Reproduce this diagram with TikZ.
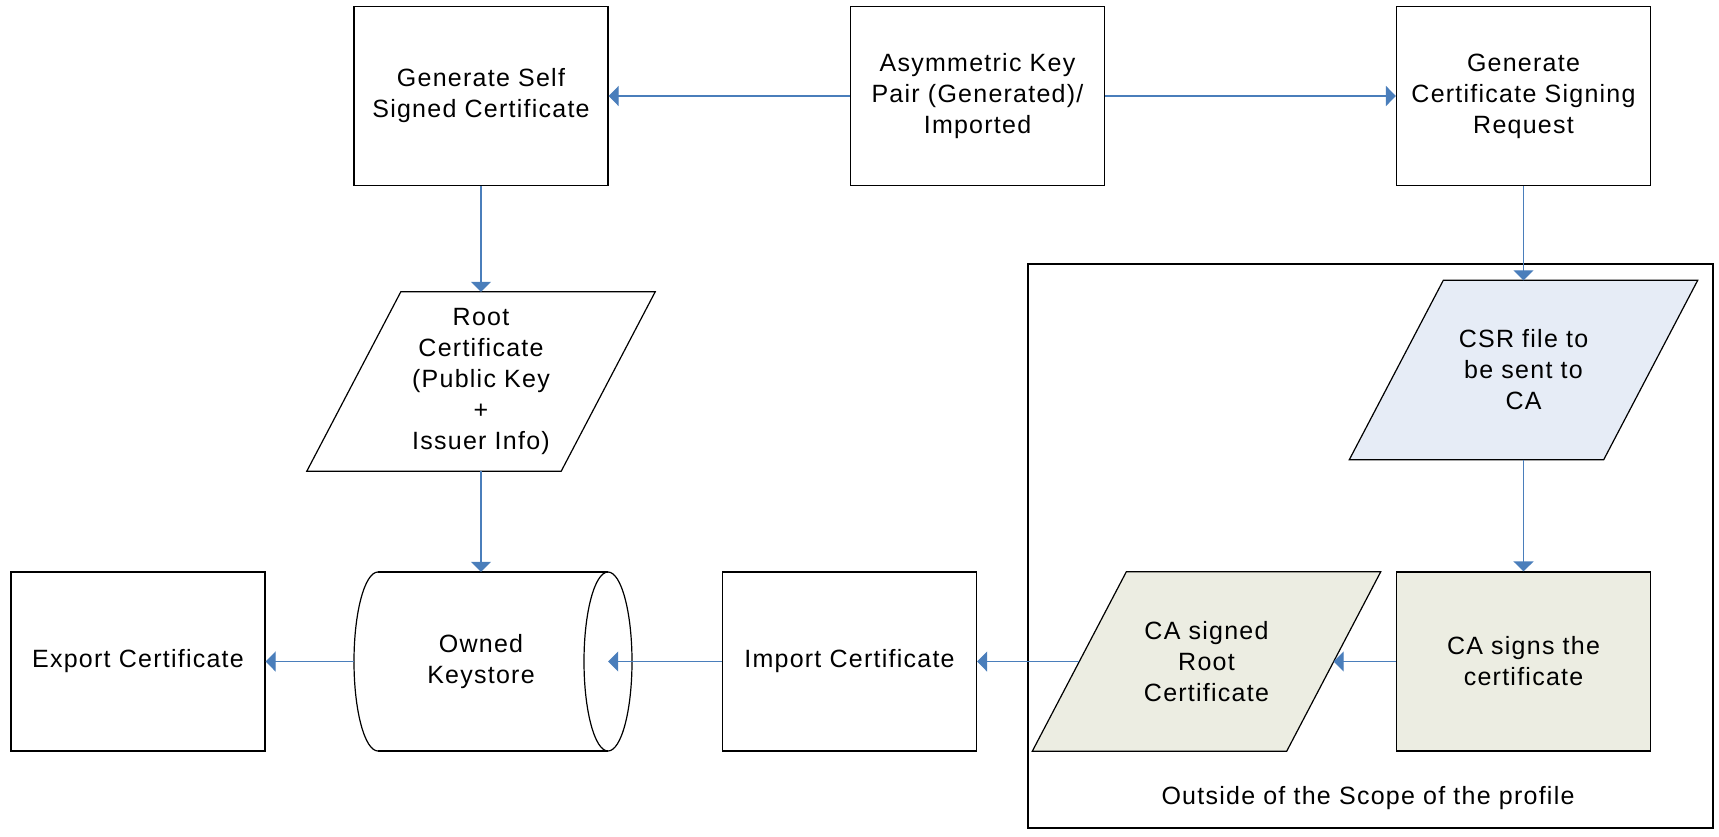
\documentclass[tikz,border=0pt]{standalone}
\usepackage{fontspec}
\setmainfont{Liberation Sans}[LetterSpace=5]
\usetikzlibrary{arrows.meta,backgrounds}
\definecolor{flowblue}{HTML}{4A7EBB}
\definecolor{csrfill}{HTML}{E6ECF6}
\definecolor{cafill}{HTML}{ECEDE2}

\begin{document}
\begin{tikzpicture}[x=1pt,y=-1pt,
  every node/.style={font=\fontsize{25}{31}\selectfont, align=center, text=black},
  slot/.style={minimum width=254pt, minimum height=179pt, inner sep=0pt},
  block/.style={slot, draw=black, line width=1.2pt},
  outline/.style={draw=black, line width=1.2pt},
  flow/.style={draw=flowblue, line width=1.2pt, -{Triangle[width=20pt,length=10pt]}}]

\useasboundingbox (0,0) rectangle (1719,836);

% top row
\node[block] (gen)    at (481,96)    {Generate Self\\Signed Certificate};
\node[block] (asym)   at (977.5,96)  {Asymmetric Key\\Pair (Generated)/\\Imported};
\node[block] (csrgen) at (1523.5,96) {Generate\\Certificate Signing\\Request};

% data (parallelogram) nodes: text placed in a slot, outline drawn behind
\node[slot] (root) at (481,381.5) {Root\\Certificate\\(Public Key\\+\\Issuer Info)};
\node[slot] (csr)  at (1523.5,370) {CSR file to\\be sent to\\CA};

% bottom row
\node[block] (export)   at (138,661.5)   {Export Certificate};
\node[slot]  (ks)       at (481,661.5)   {Owned\\Keystore};
\node[block] (import)   at (849.5,661.5) {Import Certificate};
\node[slot]  (casigned) at (1206.5,661.5) {CA signed\\Root\\Certificate};
\node[block, fill=cafill] (casigns) at (1523.5,661.5) {CA signs the\\certificate};

% external scope frame and its caption
\node (scopelbl) at (1368,798) {Outside of the Scope of the profile};

\begin{scope}[on background layer]
  \draw[outline] (1028,264) rectangle (1713,828);
  \path[outline, fill=white]
    ([xshift=-47pt]root.south west) -- ([xshift=-47pt]root.south east)
    -- ([xshift=47pt]root.north east) -- ([xshift=47pt]root.north west) -- cycle;
  \path[outline, fill=csrfill]
    ([xshift=-47pt]csr.south west) -- ([xshift=-47pt]csr.south east)
    -- ([xshift=47pt]csr.north east) -- ([xshift=47pt]csr.north west) -- cycle;
  \path[outline, fill=cafill]
    ([xshift=-47pt]casigned.south west) -- ([xshift=-47pt]casigned.south east)
    -- ([xshift=47pt]casigned.north east) -- ([xshift=47pt]casigned.north west) -- cycle;
\end{scope}

% keystore drawn as a horizontal cylinder
\draw[outline] (378,572) -- (608,572) (378,751) -- (608,751);
\draw[outline] (378,572) .. controls (364.75,572) and (354,612.1) .. (354,661.5)
                         .. controls (354,710.9) and (364.75,751) .. (378,751);
\draw[outline] (608,661.5) ellipse [x radius=24pt, y radius=89.5pt];

% connectors
\draw[flow] (asym.west) -- (gen.east);
\draw[flow] (asym.east) -- (csrgen.west);
\draw[flow] (gen.south) -- (root.north);
\draw[flow] (root.south) -- (ks.north);
\draw[flow] (ks.west) -- (export.east);
\draw[flow] (import.west) -- (ks.east);
\draw[flow] (casigned.west) -- (import.east);
\draw[flow] (casigns.west) -- (casigned.east);
\draw[flow] (csrgen.south) -- (csr.north);
\draw[flow] (csr.south) -- (casigns.north);

\end{tikzpicture}
\end{document}
